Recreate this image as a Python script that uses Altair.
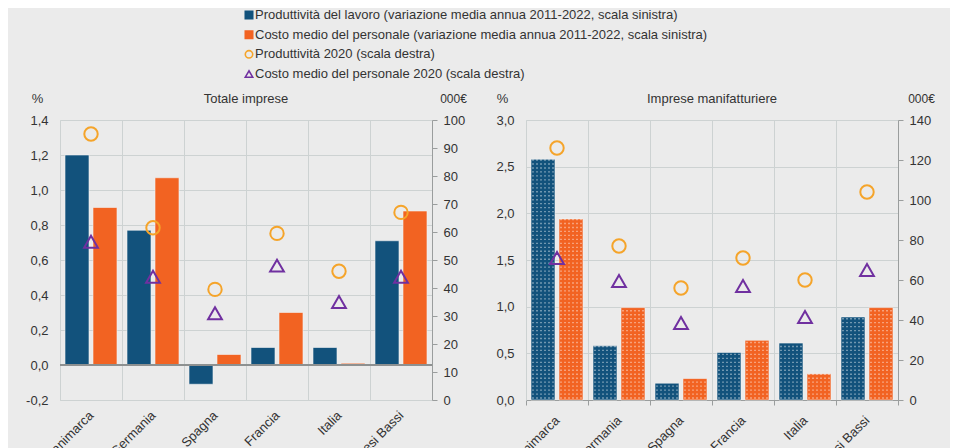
import altair as alt
import pandas as pd

paesi = ["Danimarca", "Germania", "Spagna", "Francia", "Italia", "Paesi Bassi"]
serie = ["Produttività del lavoro", "Costo medio del personale"]

# Totale imprese
tot_prod_var = [1.20, 0.77, -0.11, 0.10, 0.10, 0.71]
tot_costo_var = [0.90, 1.07, 0.06, 0.30, 0.01, 0.88]
tot_prod_2020 = [95, 61.5, 39.5, 59.5, 46, 67]
tot_costo_2020 = [56.5, 44, 31, 48, 35, 44]

# Imprese manifatturiere
man_prod_var = [2.58, 0.58, 0.18, 0.51, 0.61, 0.89]
man_costo_var = [1.94, 0.99, 0.23, 0.64, 0.28, 0.99]
man_prod_2020 = [126, 77, 56, 71, 60, 104]
man_costo_2020 = [71, 59.5, 38.5, 57, 41.5, 65]

tot_left_ticks = [-0.2, 0.0, 0.2, 0.4, 0.6, 0.8, 1.0, 1.2, 1.4]
tot_right_ticks = [0, 10, 20, 30, 40, 50, 60, 70, 80, 90, 100]
man_left_ticks = [0.0, 0.5, 1.0, 1.5, 2.0, 2.5, 3.0]
man_right_ticks = [0, 20, 40, 60, 80, 100, 120, 140]

legend_labels = [
    "Produttività del lavoro (variazione media annua 2011-2022, scala sinistra)",
    "Costo medio del personale (variazione media annua 2011-2022, scala sinistra)",
    "Produttività 2020 (scala destra)",
    "Costo medio del personale 2020 (scala destra)",
]

BLUE = "#12527c"
ORANGE = "#f26322"
YELLOW = "#f5a42a"
PURPLE = "#7030a0"
GRID = "#cdd2d2"
AXIS = "#9a9d9d"
TXT = "#333333"
BG = "#ebebeb"

num_expr = "replace(replace(format(datum.value, '.1f'), '.', ','), '\u2212', '-')"


def bars_df(prod, costo):
    rows = []
    for si, vals in enumerate([prod, costo]):
        for ci, (p, v) in enumerate(zip(paesi, vals)):
            rows.append({"paese": p, "serie": serie[si], "value": v, "ci": ci, "si": si})
    return pd.DataFrame(rows)


def panel(title, prod, costo, prod20, costo20, ldom, lticks, rdom, rticks, dotted, zero_rule, tx):
    bdf = bars_df(prod, costo)
    pdf = pd.DataFrame({"paese": paesi, "prod": prod20, "costo": costo20})

    xband = alt.Scale(paddingInner=0, paddingOuter=0)
    lscale = alt.Scale(domain=ldom, nice=False, zero=False)
    rscale = alt.Scale(domain=rdom, nice=False, zero=False)

    bars = alt.Chart(bdf).mark_bar(stroke="#f2f2f2", strokeWidth=0.6).encode(
        x=alt.X("paese:N", sort=paesi, scale=xband,
                axis=alt.Axis(title=None, tickBand="extent", grid=True, gridColor=GRID,
                              labelAngle=-45, labelAlign="right", labelBaseline="middle",
                              labelPadding=13, labelFontSize=13, labelColor=TXT,
                              domainColor=GRID if zero_rule else AXIS,
                              tickColor=AXIS, tickSize=0 if zero_rule else 5)),
        xOffset=alt.XOffset("serie:N", sort=serie,
                            scale=alt.Scale(paddingInner=0.143, paddingOuter=0.179)),
        y=alt.Y("value:Q", scale=lscale,
                axis=alt.Axis(title="%", titleAngle=0, titleX=tx[0], titleY=-22,
                              titleAlign="center", titleBaseline="middle",
                              titleFontWeight="normal", titleFontSize=13, titleColor=TXT,
                              values=lticks, labelExpr=num_expr, labelOverlap=False,
                              grid=True, gridColor=GRID,
                              ticks=False, labelPadding=12, labelFontSize=13,
                              labelColor=TXT, domainColor=GRID)),
        color=alt.Color("serie:N", sort=serie, scale=alt.Scale(domain=serie, range=[BLUE, ORANGE]),
                        legend=None),
    )
    layers = [bars]
    if zero_rule:
        layers.append(alt.Chart(bdf).mark_rule(color="#8d9090", strokeWidth=1).encode(
            y=alt.datum(0, scale=lscale, axis=None)))
    if dotted:
        dots = alt.Chart(bdf).transform_calculate(
            rows="sequence(0.021, datum.value, 0.0425)",
            cols="sequence(0, 6)",
        ).transform_flatten(["rows"]).transform_flatten(["cols"]).transform_calculate(
            dx="datum.ci + (7 + datum.si * 28 + datum.cols * 4) / 62"
        ).mark_square(size=1.8, color="white", opacity=0.6).encode(
            x=alt.X("dx:Q", scale=alt.Scale(domain=[0, 6], nice=False, zero=False), axis=None),
            y=alt.Y("rows:Q", scale=lscale, axis=None),
        )
        layers.append(dots)

    px = alt.X("paese:N", sort=paesi, scale=xband, axis=None)
    raxis = alt.Axis(orient="right", title="000€", titleAngle=0, titleX=tx[1], titleY=-22,
                     titleAlign="center", titleBaseline="middle", titleFontWeight="normal",
                     titleFontSize=12, titleColor=TXT, values=rticks, labelOverlap=False,
                     grid=False, tickColor=AXIS, tickSize=5, domainColor=AXIS, labelPadding=6,
                     labelFontSize=13, labelColor=TXT)
    circles = alt.Chart(pdf).mark_point(shape="circle", filled=False, size=180,
                                         strokeWidth=2, color=YELLOW, opacity=1).encode(
        x=px, y=alt.Y("prod:Q", scale=rscale, axis=raxis)
    )
    tris = alt.Chart(pdf).mark_point(shape="triangle-up", filled=False, size=190,
                                      strokeWidth=2, color=PURPLE, opacity=1).encode(
        x=px, y=alt.Y("costo:Q", scale=rscale, axis=None)
    )
    layers += [circles, tris]

    return alt.layer(*layers).resolve_scale(y="independent", x="independent").properties(
        width=372, height=280,
        title=alt.Title(title, fontSize=13, fontWeight="normal", color=TXT, frame="group", offset=-14),
    )


left_panel = panel("Totale imprese", tot_prod_var, tot_costo_var, tot_prod_2020, tot_costo_2020,
                   [-0.2, 1.4], tot_left_ticks, [0, 100], tot_right_ticks, False, True, (-23, 21))
right_panel = panel("Imprese manifatturiere", man_prod_var, man_costo_var, man_prod_2020, man_costo_2020,
                    [0, 3.0], man_left_ticks, [0, 140], man_right_ticks, True, False, (-24, 23))

ldf = pd.DataFrame({"label": legend_labels, "idx": list(range(len(legend_labels)))})
ly = alt.Y("idx:Q", scale=alt.Scale(domain=[0, 3], reverse=True, nice=False), axis=None)
leg_sym = alt.Chart(ldf).mark_point(size=55, strokeWidth=1.6, opacity=1).encode(
    x=alt.value(189),
    y=ly,
    shape=alt.Shape("label:N", sort=legend_labels,
                    scale=alt.Scale(domain=legend_labels, range=["square", "square", "circle", "triangle-up"]),
                    legend=None),
    fill=alt.Fill("label:N", sort=legend_labels,
                  scale=alt.Scale(domain=legend_labels, range=[BLUE, ORANGE, "transparent", "transparent"]),
                  legend=None),
    stroke=alt.Stroke("label:N", sort=legend_labels,
                      scale=alt.Scale(domain=legend_labels, range=[BLUE, ORANGE, YELLOW, PURPLE]),
                      legend=None),
)
leg_txt = alt.Chart(ldf).mark_text(align="left", baseline="middle", fontSize=13, color=TXT).encode(
    x=alt.value(195), y=ly, text="label:N"
)
legend = alt.layer(leg_sym, leg_txt).properties(width=700, height=59)

chart = alt.vconcat(
    legend,
    alt.hconcat(left_panel, right_panel, spacing=28),
    spacing=11,
).properties(
    background=BG,
    padding={"left": 17, "top": 0, "right": 15, "bottom": 5},
).configure(font="Liberation Sans", view=alt.ViewConfig(stroke=None))

chart.save("out.html", embed_options={"renderer": "svg", "actions": False})
